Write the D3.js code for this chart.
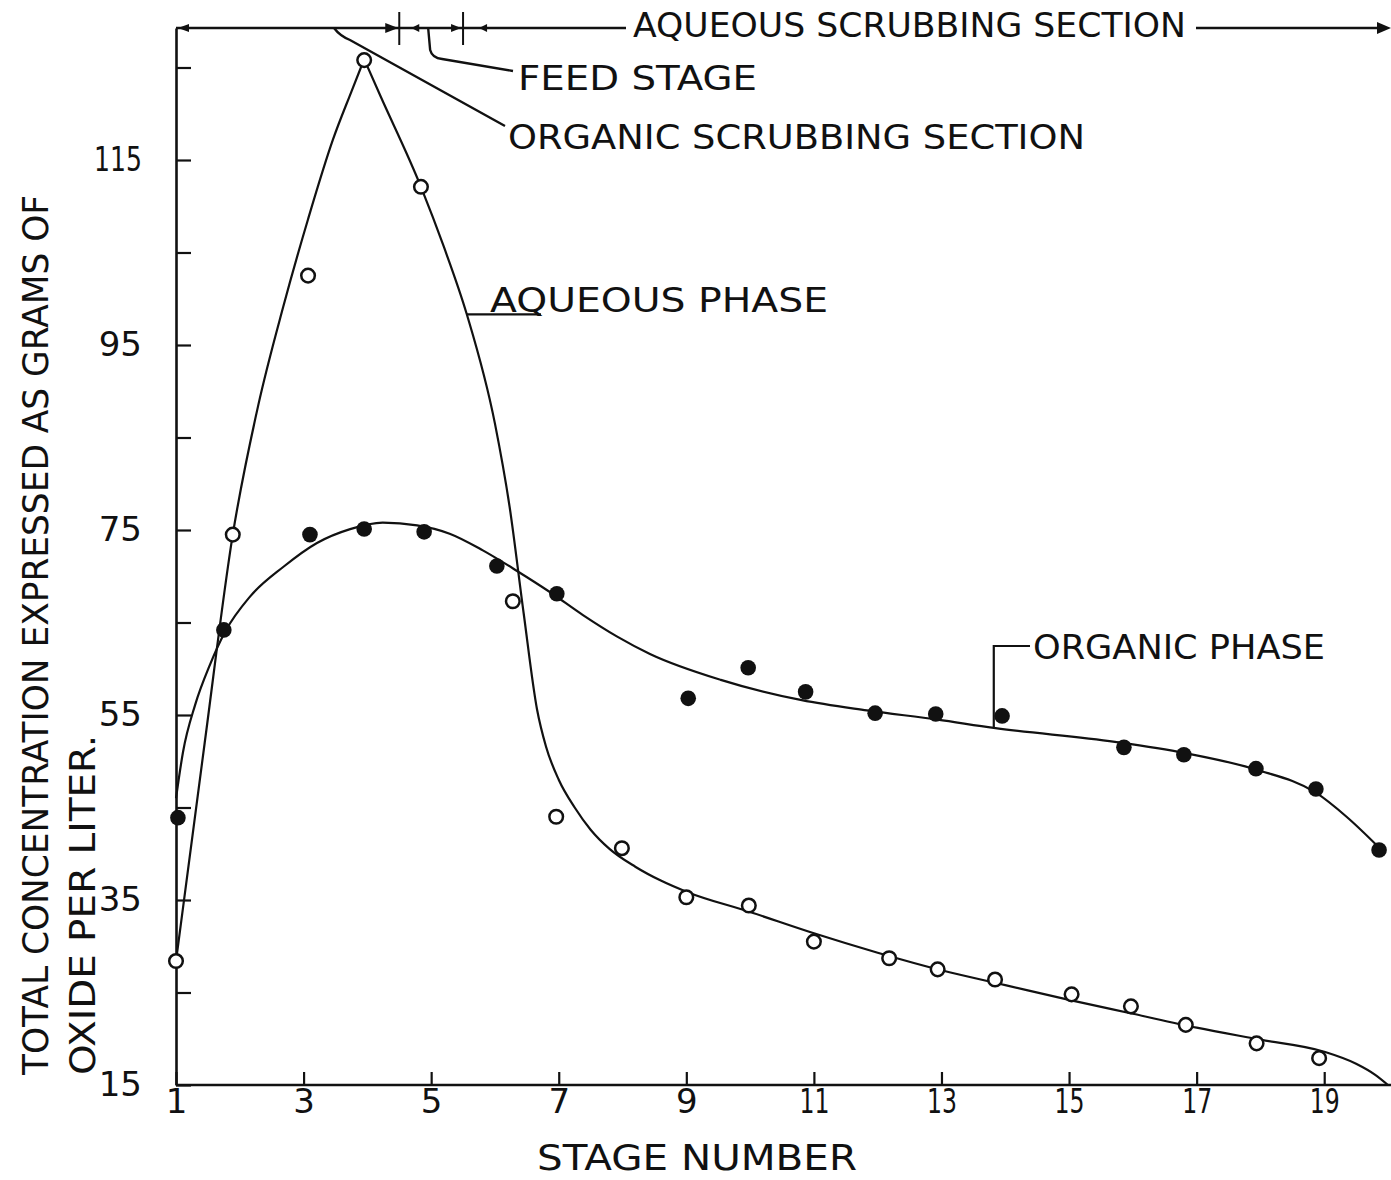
<!DOCTYPE html>
<html>
<head>
<meta charset="utf-8">
<script src="https://cdn.jsdelivr.net/npm/d3@7"></script>
<style>
  html, body { margin: 0; padding: 0; background: #fff; }
  svg { display: block; }
  text { font-family: "DejaVu Sans", sans-serif; fill: #111; }
</style>
</head>
<body>
<svg id="chart" width="1391" height="1180"></svg>
<script>
// ---- measured concentrations (g oxide / L) by stage ----
const aqueousStages = [1, 1.89, 3.07, 3.95, 4.84, 6.28, 6.96, 7.99, 9.0, 9.98, 11.0, 12.18, 12.94, 13.84, 15.04, 15.97, 16.83, 17.94, 18.92];
const aqueousValues = [28.4, 74.5, 102.5, 125.8, 112.1, 67.3, 44.0, 40.6, 35.3, 34.4, 30.5, 28.7, 27.5, 26.4, 24.8, 23.5, 21.5, 19.5, 17.9];

const organicStages = [1.03, 1.75, 3.1, 3.95, 4.89, 6.03, 6.97, 9.03, 9.97, 10.87, 11.96, 12.91, 13.95, 15.86, 16.8, 17.93, 18.87, 19.86];
const organicValues = [43.9, 64.2, 74.5, 75.1, 74.8, 71.1, 68.1, 56.8, 60.1, 57.5, 55.2, 55.1, 54.9, 51.5, 50.7, 49.2, 47.0, 40.4];

// ---- faired profile curves ----
// aqueous curve: rising branch up to the peak, then falling branch
const aqueousRiseStages = [1, 1.45, 1.89, 2.29, 2.68, 3.07, 3.46, 3.75, 3.95];
const aqueousRiseValues = [28.4, 52.0, 74.5, 88.5, 99.1, 108.6, 117.2, 122.4, 125.9];
const aqueousFallStages = [3.95, 4.2, 4.84, 5.2, 5.56, 6.0, 6.23, 6.45, 6.66, 6.8, 7.0, 7.25, 7.5, 7.8, 8.2, 8.6, 9, 10, 11, 12, 13, 14, 15, 16, 17, 18, 19, 19.5, 19.8, 20];
const aqueousFallValues = [125.9, 122.0, 112.1, 105.6, 98.3, 86.5, 77.5, 66.0, 55.6, 51.6, 48.0, 45.0, 42.6, 40.5, 38.6, 37.1, 35.9, 33.7, 31.4, 29.3, 27.4, 25.8, 24.2, 22.7, 21.2, 19.9, 18.6, 17.3, 16.1, 15];

const organicCurveStages = [1.0, 1.11, 1.30, 1.53, 1.77, 2.16, 2.68, 3.21, 3.73, 4.24, 4.78, 5.29, 5.81, 6.34, 6.86, 7.38, 7.91, 8.43, 9.54, 10.81, 11.83, 12.94, 13.82, 15.72, 16.81, 17.93, 18.87, 19.35, 19.87];
const organicCurveValues = [46.0, 51.0, 56.1, 60.4, 64.0, 67.8, 71.0, 73.6, 75.1, 75.8, 75.5, 74.6, 72.8, 70.6, 68.3, 65.8, 63.5, 61.6, 58.8, 56.6, 55.5, 54.5, 53.6, 52.1, 50.9, 49.1, 46.6, 44.0, 40.6];

// ---- axes ----
const stageTicks = [1, 3, 5, 7, 9, 11, 13, 15, 17, 19];
const concTicks = [15, 25, 35, 45, 55, 65, 75, 85, 95, 105, 115, 125];
const concLabels = [15, 35, 55, 75, 95, 115];

// ---- section boundaries (stage numbers) ----
const feedStage = 5;
const feedBounds = [4.5, 5.5];

const svg = d3.select("#chart");
const ink = "#111";

const x = d3.scaleLinear().domain([1, 20]).range([176, 1388]);
const y = d3.scaleLinear().domain([15, 129.27]).range([1085, 28]);

// y axis: ticks point into the plot
const yAxis = d3.axisLeft(y)
  .tickValues(concTicks)
  .tickSizeInner(-15)
  .tickSizeOuter(0)
  .tickPadding(34)
  .tickFormat(d => concLabels.includes(d) ? d : "");
const gy = svg.append("g").attr("transform", "translate(176,0)").call(yAxis);
gy.select(".domain").attr("stroke", ink).attr("stroke-width", 2.6);
gy.selectAll(".tick line").attr("stroke", ink).attr("stroke-width", 2.2);
gy.selectAll(".tick text")
  .attr("font-size", 34).attr("fill", ink)
  .attr("font-family", "DejaVu Sans, sans-serif")
  .each(function (d) {
    if (String(d).length > 2) d3.select(this).attr("textLength", 48).attr("lengthAdjust", "spacingAndGlyphs");
  });

// x axis: ticks point up into the plot
const xAxis = d3.axisBottom(x)
  .tickValues(stageTicks)
  .tickSizeInner(-13)
  .tickSizeOuter(0)
  .tickPadding(4);
const gx = svg.append("g").attr("transform", "translate(0,1085)").call(xAxis);
gx.select(".domain").attr("stroke", ink).attr("stroke-width", 2.6)
  .attr("d", `M${x(1)},0H1391`);
gx.selectAll(".tick line").attr("stroke", ink).attr("stroke-width", 2.2);
gx.selectAll(".tick text")
  .attr("font-size", 34).attr("fill", ink)
  .attr("font-family", "DejaVu Sans, sans-serif")
  .each(function (d) {
    if (String(d).length > 1) d3.select(this).attr("textLength", 30).attr("lengthAdjust", "spacingAndGlyphs");
  });

// axis titles
svg.append("text")
  .attr("x", 537).attr("y", 1170)
  .attr("font-size", 36)
  .attr("textLength", 320).attr("lengthAdjust", "spacingAndGlyphs")
  .text("STAGE NUMBER");

svg.append("text")
  .attr("transform", "translate(48,1075) rotate(-90)")
  .attr("font-size", 35)
  .attr("textLength", 880).attr("lengthAdjust", "spacingAndGlyphs")
  .text("TOTAL CONCENTRATION EXPRESSED AS GRAMS OF");
svg.append("text")
  .attr("transform", "translate(95,1075) rotate(-90)")
  .attr("font-size", 35)
  .attr("textLength", 340).attr("lengthAdjust", "spacingAndGlyphs")
  .text("OXIDE PER LITER.");

// ---- curves ----
const line = d3.line()
  .x(d => x(d[0])).y(d => y(d[1]))
  .curve(d3.curveMonotoneX);

const aqRise = d3.zip(aqueousRiseStages, aqueousRiseValues);
const aqFall = d3.zip(aqueousFallStages, aqueousFallValues);
const orgCurve = d3.zip(organicCurveStages, organicCurveValues);

[aqRise, aqFall, orgCurve].forEach(c => {
  svg.append("path").datum(c)
    .attr("d", line).attr("fill", "none")
    .attr("stroke", ink).attr("stroke-width", 2.2)
    .attr("stroke-linejoin", "round");
});

// ---- data points ----
svg.append("g").selectAll("circle")
  .data(d3.zip(organicStages, organicValues))
  .join("circle")
  .attr("cx", d => x(d[0])).attr("cy", d => y(d[1]))
  .attr("r", 7.8).attr("fill", ink);

svg.append("g").selectAll("circle")
  .data(d3.zip(aqueousStages, aqueousValues))
  .join("circle")
  .attr("cx", d => x(d[0])).attr("cy", d => y(d[1]))
  .attr("r", 6.8).attr("fill", "#fff")
  .attr("stroke", ink).attr("stroke-width", 2.5);

// ---- curve labels ----
const aqAnchor = aqFall[aqueousFallStages.indexOf(5.56)];
svg.append("path")
  .attr("d", `M${x(aqAnchor[0])},${y(aqAnchor[1])}H541`)
  .attr("stroke", ink).attr("stroke-width", 2.2).attr("fill", "none");
svg.append("text")
  .attr("x", 490).attr("y", 312)
  .attr("font-size", 34)
  .attr("textLength", 338).attr("lengthAdjust", "spacingAndGlyphs")
  .text("AQUEOUS PHASE");

const orgAnchor = orgCurve[organicCurveStages.indexOf(13.82)];
svg.append("path")
  .attr("d", `M1030,646H${x(orgAnchor[0])}V${y(orgAnchor[1])}`)
  .attr("stroke", ink).attr("stroke-width", 2.2).attr("fill", "none");
svg.append("text")
  .attr("x", 1033).attr("y", 659)
  .attr("font-size", 34)
  .attr("textLength", 292).attr("lengthAdjust", "spacingAndGlyphs")
  .text("ORGANIC PHASE");

// ---- section bar along the top ----
const topY = y.range()[1];
const b0 = x(feedBounds[0]), b1 = x(feedBounds[1]);

function arrowHead(tipX, yy, dir, len = 12, half = 5) {
  svg.append("path")
    .attr("d", `M${tipX},${yy}L${tipX - dir * len},${yy - half}L${tipX - dir * len},${yy + half}Z`)
    .attr("fill", ink);
}

svg.append("path")
  .attr("d", `M${x(1)},${topY}H626M1196,${topY}H1380`)
  .attr("stroke", ink).attr("stroke-width", 2.4).attr("fill", "none");
[b0, b1].forEach(bx => {
  svg.append("line")
    .attr("x1", bx).attr("x2", bx).attr("y1", topY - 16).attr("y2", topY + 17)
    .attr("stroke", ink).attr("stroke-width", 2);
});
arrowHead(x(1) + 2, topY, -1, 11, 4);
arrowHead(b0 - 1, topY, 1, 13, 5);
arrowHead(b0 + 12, topY, -1, 8, 4);
arrowHead(b1 - 2, topY, 1, 10, 4);
arrowHead(b1 + 16, topY, -1, 8, 4);
arrowHead(1391, topY, 1, 14, 6);

svg.append("text")
  .attr("x", 633).attr("y", 37)
  .attr("font-size", 34)
  .attr("textLength", 553).attr("lengthAdjust", "spacingAndGlyphs")
  .text("AQUEOUS SCRUBBING SECTION");

// feed stage leader
const fx = x(feedStage) - 3;
svg.append("path")
  .attr("d", `M${fx},${topY}L${fx + 2},${topY + 22}Q${fx + 4},${topY + 30} ${fx + 14},${topY + 31}L513,${topY + 43}`)
  .attr("stroke", ink).attr("stroke-width", 2.4).attr("fill", "none");
svg.append("text")
  .attr("x", 518).attr("y", 90)
  .attr("font-size", 34)
  .attr("textLength", 239).attr("lengthAdjust", "spacingAndGlyphs")
  .text("FEED STAGE");

// organic scrubbing section leader
svg.append("path")
  .attr("d", `M334,${topY}Q340,${topY + 8} 350,${topY + 12}L505,${topY + 98}`)
  .attr("stroke", ink).attr("stroke-width", 2.4).attr("fill", "none");
svg.append("text")
  .attr("x", 508).attr("y", 149)
  .attr("font-size", 34)
  .attr("textLength", 577).attr("lengthAdjust", "spacingAndGlyphs")
  .text("ORGANIC SCRUBBING SECTION");
</script>
</body>
</html>
